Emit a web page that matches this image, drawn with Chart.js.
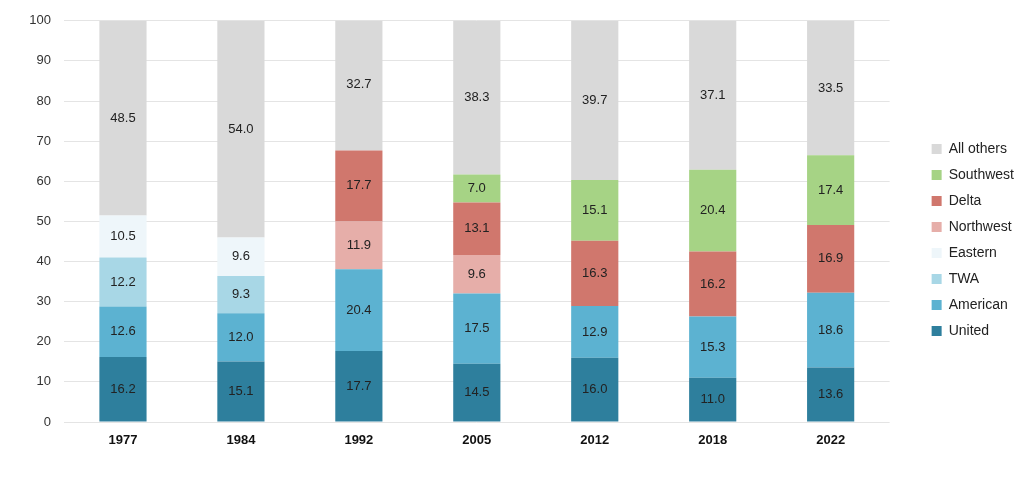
<!DOCTYPE html>
<html>
<head>
<meta charset="utf-8">
<script src="https://cdn.jsdelivr.net/npm/chart.js@4/dist/chart.umd.min.js"></script>
<style>
html,body{margin:0;padding:0;background:#fff;}
#wrap{width:1024px;height:480px;position:relative;}
</style>
</head>
<body>
<div id="wrap"><canvas id="c" width="1024" height="480"></canvas></div>
<script>
const years = ['1977','1984','1992','2005','2012','2018','2022'];
const united    = [16.2, 15.1, 17.7, 14.5, 16.0, 11.0, 13.6];
const american  = [12.6, 12.0, 20.4, 17.5, 12.9, 15.3, 18.6];
const twa       = [12.2, 9.3, null, null, null, null, null];
const eastern   = [10.5, 9.6, null, null, null, null, null];
const northwest = [null, null, 11.9, 9.6, null, null, null];
const delta     = [null, null, 17.7, 13.1, 16.3, 16.2, 16.9];
const southwest = [null, null, null, 7.0, 15.1, 20.4, 17.4];
const allOthers = [48.5, 54.0, 32.7, 38.3, 39.7, 37.1, 33.5];
const yTicks = [0,10,20,30,40,50,60,70,80,90,100];

const FONT = "'Liberation Sans', Arial, sans-serif";

function ds(label, data, color){
  return {label, data, backgroundColor: color, borderWidth: 0,
          barPercentage: 0.8, categoryPercentage: 0.5};
}

const labelPlugin = {
  id: 'segLabels',
  afterDatasetsDraw(chart){
    const ctx = chart.ctx;
    ctx.save();
    ctx.font = '13px ' + FONT;
    ctx.fillStyle = '#222';
    ctx.textAlign = 'center';
    ctx.textBaseline = 'middle';
    chart.data.datasets.forEach((d, i) => {
      const meta = chart.getDatasetMeta(i);
      meta.data.forEach((el, j) => {
        const v = d.data[j];
        if (v === null || v === undefined) return;
        ctx.fillText(v.toFixed(1), el.x, (el.y + el.base) / 2);
      });
    });
    ctx.restore();
  }
};

new Chart(document.getElementById('c'), {
  type: 'bar',
  data: {
    labels: years,
    datasets: [
      ds('United', united, '#2E7F9D'),
      ds('American', american, '#5CB2D1'),
      ds('TWA', twa, '#A8D7E6'),
      ds('Eastern', eastern, '#EEF6FA'),
      ds('Northwest', northwest, '#E6AEA9'),
      ds('Delta', delta, '#D0776D'),
      ds('Southwest', southwest, '#A6D385'),
      ds('All others', allOthers, '#D9D9D9')
    ]
  },
  options: {
    responsive: false,
    animation: false,
    layout: {padding: {top: 20, right: 0, bottom: 20, left: 0}},
    plugins: {
      legend: {
        position: 'right',
        reverse: true,
        labels: {
          boxWidth: 10, boxHeight: 10, padding: 12,
          color: '#222',
          font: {family: FONT, size: 14}
        }
      },
      tooltip: {enabled: false}
    },
    scales: {
      x: {
        stacked: true,
        grid: {display: false, drawTicks: false},
        border: {display: false},
        ticks: {color: '#111', padding: 11, font: {family: FONT, size: 13, weight: 'bold'}},
        afterFit(s){ s.height = 38; }
      },
      y: {
        stacked: true,
        min: 0, max: 100,
        afterBuildTicks(s){ s.ticks = yTicks.map(v => ({value: v})); },
        grid: {color: '#E4E4E4', lineWidth: 1, drawTicks: false},
        border: {display: false},
        ticks: {color: '#333', padding: 13, font: {family: FONT, size: 13}},
        afterFit(s){ s.width = 64; }
      },
      yPad: {
        position: 'right',
        display: true,
        grid: {display: false, drawTicks: false},
        border: {display: false},
        ticks: {display: false},
        afterFit(s){ s.width = 30; }
      }
    }
  },
  plugins: [labelPlugin]
});
</script>
</body>
</html>
